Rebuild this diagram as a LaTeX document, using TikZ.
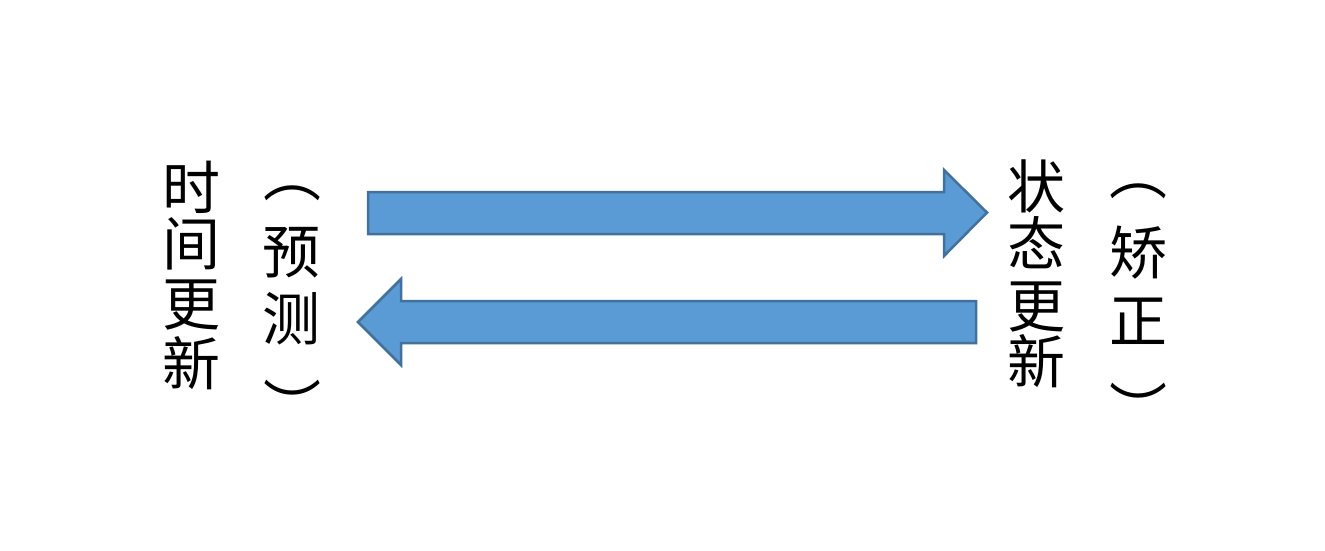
\documentclass[tikz,border=0pt]{standalone}
\usepackage{fontspec}
\newfontfamily\cjk{Noto Sans CJK SC}
\definecolor{arrowfill}{HTML}{5B9BD5}
\definecolor{arrowline}{HTML}{41719C}
\begin{document}
\begin{tikzpicture}[x=1pt,y=-1pt,
  blockarrow/.style={fill=arrowfill,draw=arrowline,line width=2.5pt,line join=miter},
  ch/.style={inner sep=0pt,font=\cjk\fontsize{58}{58}\selectfont}]
\fill[white] (0,0) rectangle (1325,550);
\useasboundingbox (0,0) rectangle (1325,550);
% left column: 时间更新
\node[ch] (a1) at (191,187) {时};
\node[ch] (a2) at (191,244) {间};
\node[ch] (a3) at (191,305) {更};
\node[ch] (a4) at (191,363) {新};
% （预测）
\node[ch] (b1) at (292,193) {︵};
\node[ch] (b2) at (291,253) {预};
\node[ch] (b3) at (291,319) {测};
\node[ch] (b4) at (292,404) {︶};
% right column: 状态更新
\node[ch] (c1) at (1036,186) {状};
\node[ch] (c2) at (1036,243) {态};
\node[ch] (c3) at (1036,307) {更};
\node[ch] (c4) at (1036,361) {新};
% （矫正）
\node[ch] (d1) at (1138,191) {︵};
\node[ch] (d2) at (1138,253) {矫};
\node[ch] (d3) at (1138,321) {正};
\node[ch] (d4) at (1138,407) {︶};
% arrows
\draw[blockarrow] (368,192) -- (944,192) -- (944,170) -- (987,212.5) -- (944,256) -- (944,234) -- (368,234) -- cycle;
\draw[blockarrow] (976,301) -- (401,301) -- (401,279) -- (358,322) -- (401,365) -- (401,343) -- (976,343) -- cycle;
\end{tikzpicture}
\end{document}
